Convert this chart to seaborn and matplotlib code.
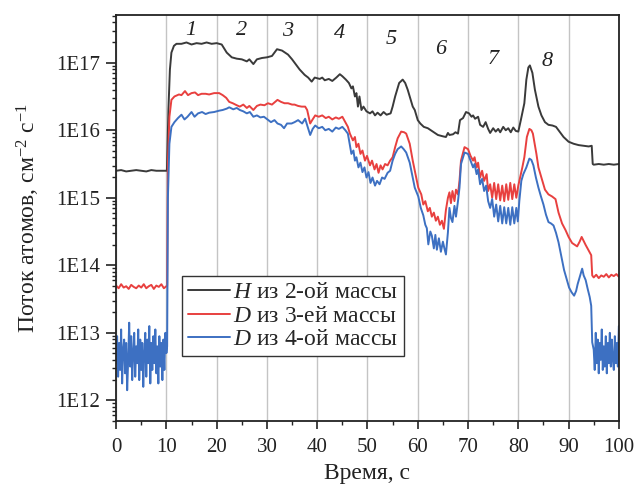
import numpy as np
import pandas as pd
import matplotlib
matplotlib.use("Agg")
import matplotlib.pyplot as plt
import seaborn as sns
from matplotlib.ticker import LogLocator, MultipleLocator, FuncFormatter, NullFormatter

# ---------------- data (values are log10 of flux) ----------------
h_t = [0, 1, 2, 3, 4, 5, 6, 7, 8, 9, 10.1, 10.4, 10.7, 11.0, 11.5, 12.0, 13.0, 14.0, 15.0, 16.0,
       17.0, 18.0, 19.0, 20.0, 21.0, 22.0, 23.0, 24.0, 25.0, 26.0, 26.5, 27.3, 28.0, 29.0, 30.0,
       31.0, 32.0, 33.0, 34.2, 35.0, 35.5, 36.5, 37.5, 38.2, 38.9, 39.5, 40.5, 41.0, 41.5, 42.3,
       43.0, 43.8, 44.5, 45.0, 45.7, 46.3, 46.8, 47.1, 47.5, 47.8, 48.1, 48.4, 48.8, 49.2, 49.8,
       50.5, 51.0, 51.5, 52.0, 52.6, 53.2, 53.8, 54.6, 55.0, 55.5, 56.3, 57.0, 57.5, 58.0, 58.4,
       59.0, 59.4, 60.0, 60.5, 61.2, 62.0, 63.0, 64.0, 65.0, 65.6, 66.0, 66.3, 67.0, 67.5, 68.0,
       68.4, 69.0, 69.6, 70.2, 70.7, 71.0, 71.4, 72.0, 72.4, 73.0, 73.5, 74.0, 74.4, 75.0, 75.5,
       76.0, 76.4, 77.0, 77.5, 78.0, 78.5, 79.0, 79.5, 80.0, 80.5, 81.2, 81.6, 82.0, 82.3, 82.8,
       83.3, 84.0, 84.6, 85.3, 86.0, 86.8, 87.5, 88.2, 89.0, 90.0, 91.0, 92.0, 93.0, 94.0, 94.6,
       94.8, 95.0, 96.0, 97.0, 98.0, 99.0, 100.0]
h_log = [15.40, 15.41, 15.39, 15.40, 15.41, 15.40, 15.39, 15.41, 15.40, 15.40, 15.40, 16.30, 16.90,
         17.15, 17.25, 17.28, 17.28, 17.30, 17.27, 17.29, 17.28, 17.30, 17.28, 17.29, 17.27, 17.15,
         17.08, 17.06, 17.05, 17.02, 17.05, 16.98, 17.05, 17.07, 17.08, 17.10, 17.20, 17.18, 17.12,
         17.05, 17.00, 16.90, 16.82, 16.78, 16.72, 16.78, 16.76, 16.78, 16.74, 16.76, 16.73, 16.78,
         16.83, 16.80, 16.75, 16.70, 16.62, 16.65, 16.50, 16.55, 16.35, 16.50, 16.30, 16.35, 16.28,
         16.25, 16.28, 16.22, 16.26, 16.22, 16.27, 16.23, 16.25, 16.35, 16.50, 16.70, 16.75, 16.70,
         16.60, 16.50, 16.35, 16.30, 16.15, 16.10, 16.05, 16.03, 15.98, 15.93, 15.91, 15.90, 15.96,
         15.93, 15.94, 15.97, 15.95, 16.15, 16.18, 16.27, 16.25, 16.20, 16.22, 16.17, 16.20, 16.08,
         16.05, 16.12, 16.02, 15.96, 16.03, 15.98, 16.02, 15.97, 16.05, 16.00, 16.03, 15.97, 16.04,
         15.99, 15.98, 16.15, 16.40, 16.75, 16.93, 16.96, 16.85, 16.60, 16.35, 16.22, 16.12, 16.08,
         16.07, 16.05, 15.98, 15.90, 15.83, 15.80, 15.78, 15.77, 15.76, 15.77, 15.50, 15.49, 15.50,
         15.49, 15.50, 15.49, 15.50]

d3_t = [0.0, 0.5, 1.0, 1.5, 2.0, 2.5, 3.0, 3.5, 4.0, 4.5, 5.0, 5.5, 6.0, 6.5, 7.0, 7.5, 8.0, 8.5,
        9.0, 9.5, 10.0,
        10.15, 10.3, 10.6, 11.0, 11.6, 12.5, 13.0, 13.7, 14.3, 15.0,
        15.7, 16.3, 17.0, 17.8, 18.5, 19.5, 20.5, 21.2, 21.9, 22.5,
        23.2, 24.0, 24.6, 25.3, 26.0, 26.5, 27.3, 28.0, 28.7, 29.5,
        30.2, 31.0, 32.1, 32.8, 33.5, 34.2, 35.0, 35.5, 36.2, 36.9,
        37.6, 38.0, 38.6, 39.0, 39.6, 40.3, 41.0, 41.7, 42.3, 43.0,
        43.7, 44.3, 45.0, 45.6, 46.1, 46.5, 47.1, 47.5, 47.8, 48.2,
        48.6, 49.0, 49.5, 49.9, 50.5, 50.9, 51.4, 51.8, 52.2, 52.6,
        53.0, 53.5, 54.0, 54.5, 55.0, 55.5, 56.0, 56.7, 57.3, 57.7,
        58.4, 59.0, 59.7, 60.1, 60.7, 61.1, 61.5, 62.0, 62.4, 62.8,
        63.2, 63.6, 64.0, 64.4, 64.8, 65.2, 65.6, 66.0, 66.3, 66.6,
        66.9, 67.3, 67.6, 68.0, 68.3, 68.6, 69.3, 70.0, 70.5, 71.0,
        71.3, 71.7, 72.0, 72.4, 72.8, 73.2, 73.7, 74.0, 74.4, 74.8,
        75.2, 75.6, 76.0, 76.4, 76.8, 77.2, 77.6, 78.0, 78.4, 78.8,
        79.2, 79.6, 80.0, 80.3, 80.8, 81.2, 81.7, 82.2, 82.6, 82.9,
        83.6, 84.0, 84.6, 85.3, 86.0, 86.7, 87.4, 88.0, 88.7, 89.4,
        90.0, 90.7, 91.3, 91.7, 92.2, 92.6, 93.0, 93.4, 94.0, 94.5,
        94.7, 95.0, 95.5, 96.0, 96.5, 97.0, 97.5, 98.0, 98.5, 99.0,
        99.5, 100.0]
d3_log = [13.70, 13.66, 13.72, 13.67, 13.69, 13.65, 13.71, 13.68, 13.66, 13.70, 13.67, 13.72, 13.66,
          13.69, 13.71, 13.65, 13.70, 13.68, 13.72, 13.66, 13.69,
          13.70, 15.50, 16.20, 16.45, 16.50, 16.53, 16.52, 16.58, 16.52, 16.55,
          16.56, 16.52, 16.54, 16.54, 16.53, 16.55, 16.55, 16.52, 16.48, 16.42,
          16.40, 16.37, 16.35, 16.38, 16.33, 16.36, 16.30, 16.36, 16.38, 16.37,
          16.40, 16.38, 16.45, 16.42, 16.40, 16.40, 16.38, 16.38, 16.36, 16.35,
          16.35, 16.30, 16.10, 16.15, 16.22, 16.20, 16.22, 16.18, 16.20, 16.16,
          16.19, 16.17, 16.20, 16.12, 16.05, 15.95, 15.85, 15.90, 15.75, 15.80,
          15.65, 15.70, 15.55, 15.62, 15.48, 15.55, 15.42, 15.50, 15.37, 15.48,
          15.42, 15.50, 15.48, 15.55, 15.60, 15.75, 15.88, 15.98, 15.97, 15.95,
          15.80, 15.55, 15.30, 15.15, 15.05, 14.90, 14.95, 14.80, 14.85, 14.72,
          14.78, 14.66, 14.72, 14.60, 14.66, 14.54, 14.82, 15.00, 15.08, 14.92,
          15.10, 14.95, 15.12, 15.05, 15.25, 15.55, 15.75, 15.72, 15.62, 15.55,
          15.60, 15.45, 15.52, 15.30, 15.40, 15.25, 15.35, 15.10, 15.20, 15.00,
          15.22, 14.98, 15.20, 14.96, 15.18, 14.95, 15.20, 14.97, 15.22, 14.98,
          15.20, 15.00, 15.18, 15.28, 15.45, 15.60, 15.90, 16.02, 16.00, 15.95,
          15.65, 15.45, 15.30, 15.12, 15.05, 15.02, 14.98, 14.78, 14.62, 14.52,
          14.42, 14.33, 14.30, 14.28, 14.35, 14.42, 14.36, 14.30, 14.22, 14.15,
          13.85, 13.82, 13.86, 13.81, 13.85, 13.83, 13.87, 13.82, 13.86, 13.84,
          13.87, 13.83]

d4_t = [0.0, 0.2, 0.4, 0.6, 0.8, 1.0, 1.2, 1.4, 1.6, 1.8, 2.0, 2.2, 2.4, 2.6, 2.8, 3.0, 3.2,
        3.4, 3.6, 3.8, 4.0, 4.2, 4.4, 4.6, 4.8, 5.0, 5.2, 5.4, 5.6, 5.8, 6.0, 6.2, 6.4, 6.6,
        6.8, 7.0, 7.2, 7.4, 7.6, 7.8, 8.0, 8.2, 8.4, 8.6, 8.8, 9.0, 9.2, 9.4, 9.6, 9.8, 10.0,
        10.15, 10.3, 10.6, 11.0, 11.6, 12.3, 13.0, 13.6, 14.2, 15.0,
        15.6, 16.3, 17.1, 17.8, 18.5, 19.5, 20.5, 21.2, 22.0, 22.5,
        23.3, 24.0, 24.6, 25.3, 26.0, 26.6, 27.3, 28.0, 28.7, 29.4,
        30.1, 30.8, 31.5, 32.1, 32.8, 33.4, 34.0, 34.9, 35.5, 36.2,
        37.0, 37.6, 38.1, 38.6, 39.1, 39.6, 40.3, 41.0, 41.6, 42.3,
        43.0, 43.7, 44.3, 45.0, 45.6, 46.1, 46.5, 46.8, 47.2, 47.5,
        47.8, 48.2, 48.6, 49.0, 49.4, 49.8, 50.2, 50.6, 51.0, 51.5,
        51.9, 52.4, 52.9, 53.4, 54.0, 54.5, 55.0, 55.5, 56.0, 56.7,
        57.2, 57.7, 58.4, 59.0, 59.4, 60.1, 60.6, 61.1, 61.5, 61.8,
        62.1, 62.5, 62.8, 63.2, 63.5, 63.8, 64.2, 64.6, 65.0, 65.3,
        65.6, 66.0, 66.3, 66.6, 66.9, 67.3, 67.6, 68.0, 68.3, 68.6,
        69.3, 70.0, 70.5, 71.0, 71.3, 71.7, 72.0, 72.4, 72.8, 73.2,
        73.6, 74.0, 74.4, 74.8, 75.2, 75.6, 76.0, 76.4, 76.8, 77.2,
        77.6, 78.0, 78.4, 78.8, 79.2, 79.6, 79.9, 80.2, 80.6, 81.0,
        81.6, 82.2, 82.6, 83.0, 83.5, 84.0, 84.5, 85.0, 85.5, 86.0,
        86.5, 87.0, 87.5, 88.0, 88.5, 89.1, 89.6, 90.1, 90.6, 91.1,
        91.5, 91.8, 92.3, 92.7, 93.0, 93.4, 93.8, 94.2, 94.5, 94.7,
        95.0, 95.2, 95.4, 95.6, 95.8, 96.0, 96.2, 96.4, 96.6, 96.8, 97.0, 97.2, 97.4,
        97.6, 97.8, 98.0, 98.2, 98.4, 98.6, 98.8, 99.0, 99.2, 99.4, 99.6, 99.8, 100.0]
d4_log = [12.55, 12.95, 12.35, 12.85, 12.45, 13.05, 12.25, 12.75, 12.90, 12.40,
          12.85, 12.15, 12.60, 13.15, 12.50, 12.95, 12.30, 12.70, 13.00, 12.35,
          12.80, 12.55, 13.05, 12.30, 12.90, 12.45, 12.85, 12.20, 12.70, 13.00,
          12.35, 12.90, 12.55, 13.10, 12.25, 12.85, 12.45, 12.95, 12.55, 13.05,
          12.40, 12.80, 12.25, 12.95, 12.50, 12.85, 12.30, 12.90, 12.45, 13.00,
          12.70,
          12.80, 15.00, 15.80, 16.05, 16.12, 16.18, 16.23, 16.16, 16.20, 16.27,
          16.20, 16.25, 16.27, 16.24, 16.26, 16.27, 16.29, 16.30, 16.32, 16.34,
          16.31, 16.33, 16.30, 16.28, 16.25, 16.27, 16.20, 16.22, 16.19, 16.20,
          16.16, 16.12, 16.15, 16.10, 16.08, 16.03, 16.10, 16.10, 16.12, 16.15,
          16.10, 16.17, 16.05, 15.93, 16.02, 16.07, 16.03, 16.05, 16.00, 16.02,
          15.98, 16.04, 16.02, 16.05, 16.00, 15.95, 15.78, 15.65, 15.70, 15.55,
          15.60, 15.45, 15.52, 15.38, 15.45, 15.30, 15.38, 15.22, 15.30, 15.18,
          15.25, 15.20, 15.30, 15.28, 15.37, 15.40, 15.55, 15.65, 15.72, 15.76,
          15.72, 15.67, 15.52, 15.30, 15.15, 15.02, 14.85, 14.74, 14.60, 14.55,
          14.31, 14.50, 14.44, 14.25, 14.45, 14.23, 14.40, 14.20, 14.35, 14.25,
          14.16, 14.49, 14.85, 14.70, 14.64, 14.88, 14.72, 14.95, 15.15, 15.50,
          15.67, 15.65, 15.55, 15.45, 15.50, 15.35, 15.42, 15.20, 15.28, 15.10,
          15.18, 14.95, 14.85, 14.98, 14.72, 14.90, 14.65, 14.88, 14.62, 14.86,
          14.62, 14.85, 14.60, 14.86, 14.62, 14.85, 14.65, 14.95, 15.25, 15.35,
          15.45, 15.58, 15.56, 15.48, 15.30, 15.15, 15.02, 14.90, 14.75, 14.64,
          14.62, 14.59, 14.48, 14.34, 14.15, 13.93, 13.80, 13.67, 13.60, 13.55,
          13.62, 13.72, 13.85, 13.95, 13.85, 13.78, 13.65, 13.53, 13.40, 12.86,
          12.75, 12.45, 13.00, 12.55, 12.90, 12.40, 12.85, 12.60, 13.05, 12.45,
          12.80, 12.50, 12.95, 12.40, 12.85, 12.55, 13.00, 12.50, 12.90, 12.60,
          12.45, 12.95, 12.55, 12.85, 12.50, 13.10]

series_names = ["H2", "D3", "D4"]
legend_labels = [r"$\mathit{H}$ из 2-ой массы",
                 r"$\mathit{D}$ из 3-ей массы",
                 r"$\mathit{D}$ из 4-ой массы"]
series_colors = ["#3a3a3a", "#e8403f", "#3d70c2"]

region_labels = ["1", "2", "3", "4", "5", "6", "7", "8"]
region_x = [14.9, 24.9, 34.2, 44.4, 54.8, 64.5, 75.0, 85.7]
region_log = [17.47, 17.47, 17.46, 17.44, 17.35, 17.20, 17.05, 17.02]

x_ticks = [0, 10, 20, 30, 40, 50, 60, 70, 80, 90, 100]

# ---------------- build table ----------------
frames = []
for name, t, v in zip(series_names, [h_t, d3_t, d4_t], [h_log, d3_log, d4_log]):
    frames.append(pd.DataFrame({"t": t, "flux": np.power(10.0, v), "series": name}))
df = pd.concat(frames, ignore_index=True)

# ---------------- style ----------------
sns.set_style("ticks")
plt.rcParams["font.family"] = ["Liberation Serif", "DejaVu Serif"]
plt.rcParams["mathtext.fontset"] = "custom"
plt.rcParams["mathtext.rm"] = "Liberation Serif"
plt.rcParams["mathtext.it"] = "Liberation Serif:italic"
plt.rcParams["mathtext.bf"] = "Liberation Serif:bold"

fig = plt.figure(figsize=(6.38, 4.84), dpi=100)
ax = fig.add_axes([0.182, 0.130, 0.788, 0.839])

sns.lineplot(data=df, x="t", y="flux", hue="series", hue_order=series_names,
             palette=dict(zip(series_names, series_colors)), estimator=None,
             linewidth=1.4, legend=False, ax=ax)

ax.set_yscale("log")
ax.set_xlim(0, 100)
ax.set_ylim(4.93e11, 5.09e17)

ax.set_xticks(x_ticks)
ax.xaxis.set_minor_locator(MultipleLocator(5))
ax.yaxis.set_major_locator(LogLocator(base=10, numticks=20))
ax.yaxis.set_minor_locator(LogLocator(base=10, subs=np.arange(2, 10), numticks=20))
ax.yaxis.set_minor_formatter(NullFormatter())
ax.yaxis.set_major_formatter(FuncFormatter(lambda v, p: f"1E{int(round(np.log10(v)))}"))

ax.tick_params(which="major", direction="out", width=1.2, labelsize=15,
               color="#222222", labelcolor="#222222")
ax.tick_params(axis="x", which="major", length=6, pad=6.5)
ax.tick_params(axis="y", which="major", length=7, pad=4.5)
ax.tick_params(which="minor", direction="out", length=3.2, width=1.0, color="#222222")

ax.grid(False)
ax.xaxis.grid(True, which="major", color="#c4c4c4", linewidth=1.0)
ax.set_axisbelow(True)
for sp in ax.spines.values():
    sp.set_visible(True)
    sp.set_linewidth(1.3)
    sp.set_color("#222222")

ax.set_xlabel("Время, с", fontsize=17, color="#222222", labelpad=4)
ax.set_ylabel("Поток атомов, см$^{-2}$ с$^{-1}$", fontsize=17, color="#222222", labelpad=10)

for s, x, y in zip(region_labels, region_x, region_log):
    ax.text(x, 10 ** y, s, fontsize=16, style="italic", ha="center", va="center",
            color="#222222")

handles = ax.get_lines()[:3]
leg = ax.legend(handles, legend_labels, loc="lower left", bbox_to_anchor=(0.131, 0.160),
                fontsize=17, frameon=True, fancybox=False, framealpha=1,
                edgecolor="#333333", handlelength=1.8, handletextpad=0.12,
                labelspacing=0.08, borderpad=0.25, borderaxespad=0)
leg.get_frame().set_linewidth(1.0)
for line in leg.get_lines():
    line.set_linewidth(1.4)

fig.savefig("out.png", dpi=100)
